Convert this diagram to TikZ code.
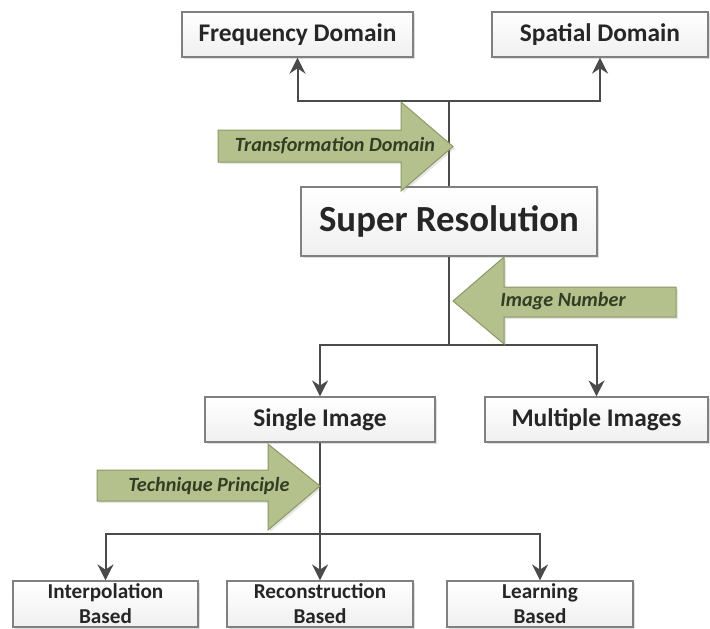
\documentclass[tikz,border=0pt]{standalone}
\usepackage{fontspec}
\setmainfont{Carlito}
\usetikzlibrary{shadows,arrows.meta}

\definecolor{boxline}{RGB}{128,128,128}
\definecolor{wire}{RGB}{75,75,75}
\definecolor{olive}{RGB}{181,193,140}
\definecolor{oliveline}{RGB}{140,152,100}
\definecolor{olivetext}{RGB}{50,62,36}

\tikzset{
  box/.style={draw=boxline, line width=0.6pt, top color=white, bottom color=gray!12,
    drop shadow={shadow xshift=1pt, shadow yshift=-1pt, opacity=0.25},
    align=center, inner sep=0pt, font=\bfseries, text=black!85},
  bigtext/.style={font=\bfseries\fontsize{12.7}{15}\selectfont},
  smalltext/.style={font=\bfseries\fontsize{10.6}{12.5}\selectfont},
  wireline/.style={draw=wire, line width=1pt},
  pointer/.style={wireline, -{Stealth[length=8pt,width=8pt]}},
  blockarrow/.style={fill=olive, draw=oliveline, line width=0.5pt,
    drop shadow={shadow xshift=1pt, shadow yshift=-1pt, opacity=0.2}},
  tag/.style={font=\itshape\bfseries\fontsize{10.1}{12}\selectfont, text=olivetext}
}

\begin{document}
\begin{tikzpicture}[x=0.5pt,y=-0.5pt]
  \useasboundingbox (0,0) rectangle (710,628);

  % boxes
  \node[box, bigtext, minimum width=115.5pt, minimum height=22.5pt] (freq) at (297.5,34.5) {Frequency Domain};
  \node[box, bigtext, minimum width=108pt, minimum height=22.5pt] (spatial) at (600,34.5) {Spatial Domain};
  \node[box, minimum width=148pt, minimum height=34.5pt, font=\bfseries\fontsize{18.4}{21}\selectfont] (sr) at (449,221.5) {Super Resolution};
  \node[box, bigtext, minimum width=115pt, minimum height=22.5pt] (single) at (320,419.5) {Single Image};
  \node[box, bigtext, minimum width=111.5pt, minimum height=22.5pt] (multi) at (596.5,419.5) {Multiple Images};
  \node[box, smalltext, minimum width=92.5pt, minimum height=23pt] (interp) at (105.5,604) {Interpolation\\Based};
  \node[box, smalltext, minimum width=93pt, minimum height=23pt] (recon) at (320,604) {Reconstruction\\Based};
  \node[box, smalltext, minimum width=93pt, minimum height=23pt] (learn) at (540,604) {Learning\\Based};

  % junctions
  \coordinate (top) at (sr.north |- 0,101);
  \coordinate (mid) at (sr.south |- 0,345);
  \coordinate (low) at (single.south |- 0,534);

  % connectors
  \draw[wireline] (sr.north) -- (top);
  \draw[pointer] (top) -| (freq.south);
  \draw[pointer] (top) -| (spatial.south);
  \draw[wireline] (sr.south) -- (mid);
  \draw[pointer] (mid) -| (single.north);
  \draw[pointer] (mid) -| (multi.north);
  \draw[pointer] (single.south) -- (recon.north);
  \draw[pointer] (low) -| (interp.north);
  \draw[pointer] (low) -| (learn.north);

  % block arrows
  \draw[blockarrow] (218,130) -- (401,130) -- (401,102) -- (453,146.5) -- (401,191) -- (401,162) -- (218,162) -- cycle;
  \node[tag] (transtag) at (335,146) {Transformation Domain};

  \draw[blockarrow] (676,287) -- (504,287) -- (504,257) -- (453,301) -- (504,344) -- (504,317) -- (676,317) -- cycle;
  \node[tag] (numtag) at (563,301) {Image Number};

  \draw[blockarrow] (97,470) -- (268,470) -- (268,444) -- (320,486) -- (268,530) -- (268,501) -- (97,501) -- cycle;
  \node[tag] (techtag) at (209,486) {Technique Principle};
\end{tikzpicture}
\end{document}
